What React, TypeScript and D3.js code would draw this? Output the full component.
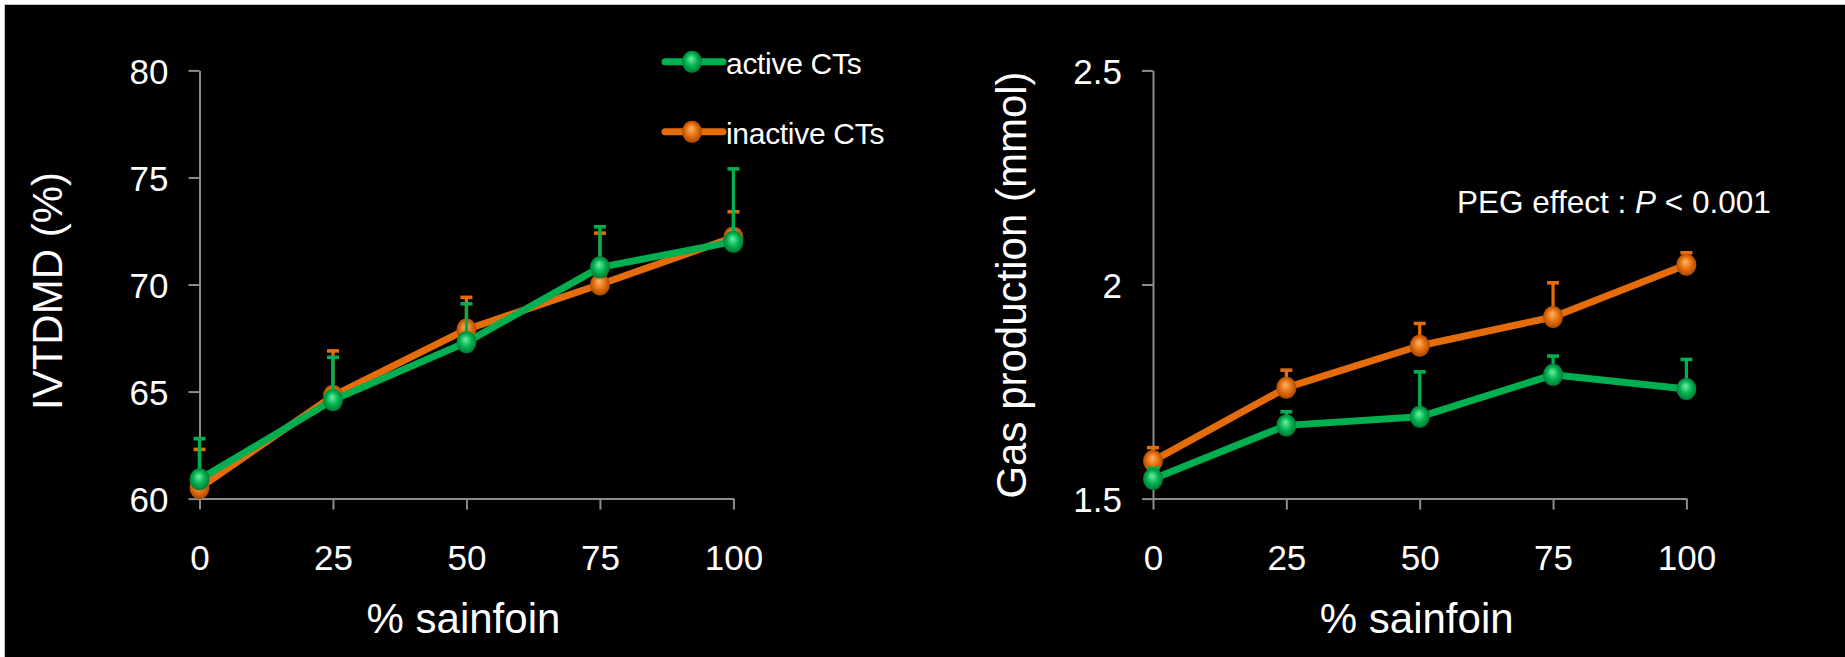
import React, { useRef, useEffect } from "react"
import * as d3 from "d3"

const W = 1845
const H = 657
const FONT = "'Liberation Sans', Arial, sans-serif"

// data
const sainfoin = [0, 25, 50, 75, 100]
const xTickLabels = ["0", "25", "50", "75", "100"]

const ivtdmdActive = [60.9, 64.6, 67.3, 70.8, 72.0]
const ivtdmdActiveErr = [1.9, 2.0, 1.8, 1.9, 3.4]
const ivtdmdInactive = [60.5, 64.8, 67.9, 70.0, 72.2]
const ivtdmdInactiveErr = [1.8, 2.1, 1.5, 2.4, 1.2]
const ivtdmdTicks = [60, 65, 70, 75, 80]

const gasActive = [1.546, 1.671, 1.691, 1.789, 1.756]
const gasActiveErr = [0.025, 0.032, 0.105, 0.044, 0.069]
const gasInactive = [1.588, 1.759, 1.857, 1.924, 2.046]
const gasInactiveErr = [0.031, 0.041, 0.052, 0.08, 0.028]
const gasTicks = [1.5, 2, 2.5]
const gasTickLabels = ["1.5", "2", "2.5"]

const seriesNames = ["active CTs", "inactive CTs"]
const GREEN = "#00b050"
const ORANGE = "#e46c0a"

const App = () => {
  const ref = useRef(null)

  useEffect(() => {
    if (!ref.current) return
    const svg = d3.select(ref.current)
    svg.selectAll("*").remove()

    // gradients for the glossy markers
    const defs = svg.append("defs")
    const grad = (id, light, mid, dark) => {
      const g = defs
        .append("radialGradient")
        .attr("id", id)
        .attr("cx", "50%")
        .attr("cy", "50%")
        .attr("r", "55%")
        .attr("fx", "45%")
        .attr("fy", "35%")
      g.append("stop").attr("offset", "0%").attr("stop-color", light)
      g.append("stop").attr("offset", "55%").attr("stop-color", mid)
      g.append("stop").attr("offset", "100%").attr("stop-color", dark)
    }
    grad("gGreen", "#6ff0a0", GREEN, "#00702f")
    grad("gOrange", "#ffb36b", ORANGE, "#9a4300")

    // page frame
    svg.append("rect").attr("width", W).attr("height", H).attr("fill", "#fff")
    svg.append("rect").attr("x", 4).attr("y", 4).attr("width", W - 4).attr("height", H - 4).attr("fill", "#c4c4c4")
    svg.append("rect").attr("x", 5).attr("y", 5).attr("width", W - 5).attr("height", H - 5).attr("fill", "#000")

    const panels = [
      {
        xr: [199.5, 733.4],
        domain: [60, 80],
        ticks: ivtdmdTicks,
        tickLabels: ivtdmdTicks.map(String),
        title: "IVTDMD (%)",
        titleX: 62,
        titleY: 291,
        series: [
          { v: ivtdmdInactive, e: ivtdmdInactiveErr, color: ORANGE, fill: "url(#gOrange)" },
          { v: ivtdmdActive, e: ivtdmdActiveErr, color: GREEN, fill: "url(#gGreen)" },
        ],
      },
      {
        xr: [1153, 1686.4],
        domain: [1.5, 2.5],
        ticks: gasTicks,
        tickLabels: gasTickLabels,
        title: "Gas production (mmol)",
        titleX: 1026,
        titleY: 285,
        series: [
          { v: gasInactive, e: gasInactiveErr, color: ORANGE, fill: "url(#gOrange)" },
          { v: gasActive, e: gasActiveErr, color: GREEN, fill: "url(#gGreen)" },
        ],
      },
    ]

    panels.forEach(p => {
      const x = d3.scaleLinear().domain([0, 100]).range(p.xr)
      const y = d3.scaleLinear().domain(p.domain).range([498.6, 70.4])
      const g = svg.append("g")

      const yAxis = d3
        .axisLeft(y)
        .tickValues(p.ticks)
        .tickFormat((d, i) => p.tickLabels[i])
        .tickSizeInner(11)
        .tickSizeOuter(0)
        .tickPadding(20)
      const xAxis = d3
        .axisBottom(x)
        .tickValues(sainfoin)
        .tickFormat((d, i) => xTickLabels[i])
        .tickSizeInner(11)
        .tickSizeOuter(0)
        .tickPadding(36)

      const ya = g.append("g").attr("transform", `translate(${p.xr[0]},0)`).call(yAxis)
      const xa = g.append("g").attr("transform", "translate(0,498.6)").call(xAxis)
      ;[ya, xa].forEach(a => {
        a.selectAll("path, line").attr("stroke", "#8c8c8c").attr("stroke-width", 2)
        a.selectAll("text")
          .attr("fill", "#fff")
          .attr("font-family", FONT)
          .attr("font-size", 35)
      })
      ya.selectAll("text").attr("dy", "0.36em")

      // axis titles
      g.append("text")
        .attr("transform", `translate(${p.titleX},${p.titleY}) rotate(-90)`)
        .attr("text-anchor", "middle")
        .attr("fill", "#fff")
        .attr("font-family", FONT)
        .attr("font-size", 42)
        .text(p.title)
      g.append("text")
        .attr("x", x(50) - 3)
        .attr("y", 633)
        .attr("text-anchor", "middle")
        .attr("fill", "#fff")
        .attr("font-family", FONT)
        .attr("font-size", 42)
        .text("% sainfoin")

      const line = d3
        .line()
        .x((d, i) => x(sainfoin[i]))
        .y(d => y(d))

      p.series.forEach(s => {
        const sg = g.append("g")
        // upper error bars
        s.v.forEach((v, i) => {
          const cx = x(sainfoin[i])
          const top = y(v + s.e[i])
          sg.append("line")
            .attr("x1", cx).attr("x2", cx)
            .attr("y1", y(v)).attr("y2", top)
            .attr("stroke", s.color).attr("stroke-width", 3.3)
          sg.append("line")
            .attr("x1", cx - 6).attr("x2", cx + 6)
            .attr("y1", top).attr("y2", top)
            .attr("stroke", s.color).attr("stroke-width", 3.6)
        })
        sg.append("path")
          .datum(s.v)
          .attr("d", line)
          .attr("fill", "none")
          .attr("stroke", s.color)
          .attr("stroke-width", 7)
          .attr("stroke-linejoin", "round")
        sg.selectAll("ellipse")
          .data(s.v)
          .enter()
          .append("ellipse")
          .attr("cx", (d, i) => x(sainfoin[i]))
          .attr("cy", d => y(d))
          .attr("rx", 10)
          .attr("ry", 11)
          .attr("fill", s.fill)
      })
    })

    // legend
    const legend = [
      { name: seriesNames[0], color: GREEN, fill: "url(#gGreen)", y: 61.7 },
      { name: seriesNames[1], color: ORANGE, fill: "url(#gOrange)", y: 131.7 },
    ]
    legend.forEach(l => {
      svg.append("line")
        .attr("x1", 665).attr("x2", 723)
        .attr("y1", l.y).attr("y2", l.y)
        .attr("stroke", l.color).attr("stroke-width", 7)
        .attr("stroke-linecap", "round")
      svg.append("ellipse")
        .attr("cx", 692).attr("cy", l.y)
        .attr("rx", 10).attr("ry", 11)
        .attr("fill", l.fill)
      svg.append("text")
        .attr("x", 726)
        .attr("y", l.y + 12.5)
        .attr("fill", "#fff")
        .attr("font-family", FONT)
        .attr("font-size", 30)
        .attr("letter-spacing", -0.3)
        .text(l.name)
    })

    // annotation
    const note = svg.append("text")
      .attr("x", 1457)
      .attr("y", 213)
      .attr("fill", "#fff")
      .attr("font-family", FONT)
      .attr("font-size", 31.5)
    note.append("tspan").text("PEG effect : ")
    note.append("tspan").attr("font-style", "italic").text("P")
    note.append("tspan").text(" < 0.001")
  }, [])

  return (
    <svg
      ref={ref}
      width={W}
      height={H}
      style={{ position: "absolute", left: 0, top: 0, display: "block" }}
    />
  )
}

export default App
